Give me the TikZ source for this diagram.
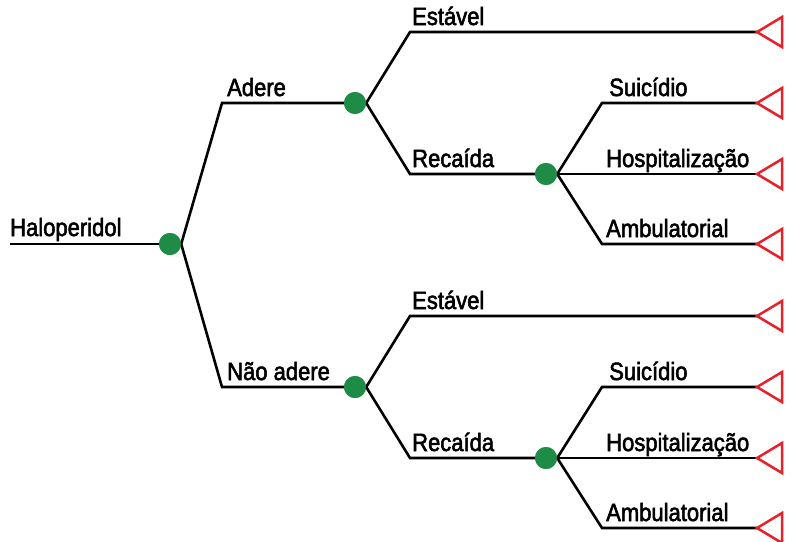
\documentclass[tikz,border=0pt]{standalone}
\usepackage{fontspec}
\setmainfont{Liberation Sans}[FakeStretch=0.88,FakeBold=2.2]
\definecolor{nodegreen}{RGB}{30,140,70}
\definecolor{endred}{RGB}{232,32,42}
\tikzset{
  branch/.style={line width=2.6pt, black},
  chance/.style={circle, fill=nodegreen, minimum size=22pt, inner sep=0pt},
  lbl/.style={anchor=base west, inner sep=0pt, font=\fontsize{25}{28}\selectfont},
  endtri/.style={draw=endred, line width=2.5pt, line join=miter}
}
\begin{document}
\begin{tikzpicture}[x=1pt,y=-1pt]
\useasboundingbox (0,0) rectangle (791,541);
% chance nodes
\node[chance] (r) at (170,244) {};
\node[chance] (a) at (355,103) {};
\node[chance] (n) at (355,387) {};
\node[chance] (ar) at (546,174) {};
\node[chance] (nr) at (546,458) {};
% start and bends
\coordinate (s) at (10,244);
\coordinate (ba) at (222,103);
\coordinate (bn) at (222,387);
\coordinate (bae) at (410,32);
\coordinate (bar) at (410,174);
\coordinate (bne) at (410,316);
\coordinate (bnr) at (410,458);
\coordinate (bas) at (602,103);
\coordinate (baa) at (602,244);
\coordinate (bns) at (602,387);
\coordinate (bna) at (602,528);
% terminal points
\coordinate (t1) at (757,32);
\coordinate (t2) at (757,103);
\coordinate (t3) at (757,174);
\coordinate (t4) at (757,244);
\coordinate (t5) at (757,316);
\coordinate (t6) at (757,387);
\coordinate (t7) at (757,458);
\coordinate (t8) at (757,528);
% branches
\draw[branch] (s) -- (r.center);
\draw[branch] (r.east) -- (ba) -- (a.center);
\draw[branch] (r.east) -- (bn) -- (n.center);
\draw[branch] (a.east) -- (bae) -- (t1);
\draw[branch] (a.east) -- (bar) -- (ar.center);
\draw[branch] (n.east) -- (bne) -- (t5);
\draw[branch] (n.east) -- (bnr) -- (nr.center);
\draw[branch] (ar.east) -- (bas) -- (t2);
\draw[branch] (ar.east) -- (t3);
\draw[branch] (ar.east) -- (baa) -- (t4);
\draw[branch] (nr.east) -- (bns) -- (t6);
\draw[branch] (nr.east) -- (t7);
\draw[branch] (nr.east) -- (bna) -- (t8);
% redraw chance nodes on top
\foreach \c in {r,a,n,ar,nr} \fill[nodegreen] (\c) circle (11pt);
% terminal triangles
\foreach \t in {t1,t2,t3,t4,t5,t6,t7,t8}
  \draw[endtri] (\t) -- ++(25,-15) -- ++(0,30) -- cycle;
% labels
\node[lbl] (l0) at (10,236) {Haloperidol};
\node[lbl] (l1) at (227,96) {Adere};
\node[lbl] (l2) at (227,380) {Não adere};
\node[lbl] (l3) at (412,25) {Estável};
\node[lbl] (l4) at (412,167) {Recaída};
\node[lbl] (l5) at (412,309) {Estável};
\node[lbl] (l6) at (412,451) {Recaída};
\node[lbl] (l7) at (609,96) {Suicídio};
\node[lbl] (l8) at (606,167) {Hospitalização};
\node[lbl] (l9) at (606,237) {Ambulatorial};
\node[lbl] (l10) at (609,380) {Suicídio};
\node[lbl] (l11) at (606,451) {Hospitalização};
\node[lbl] (l12) at (606,521) {Ambulatorial};
\end{tikzpicture}
\end{document}
